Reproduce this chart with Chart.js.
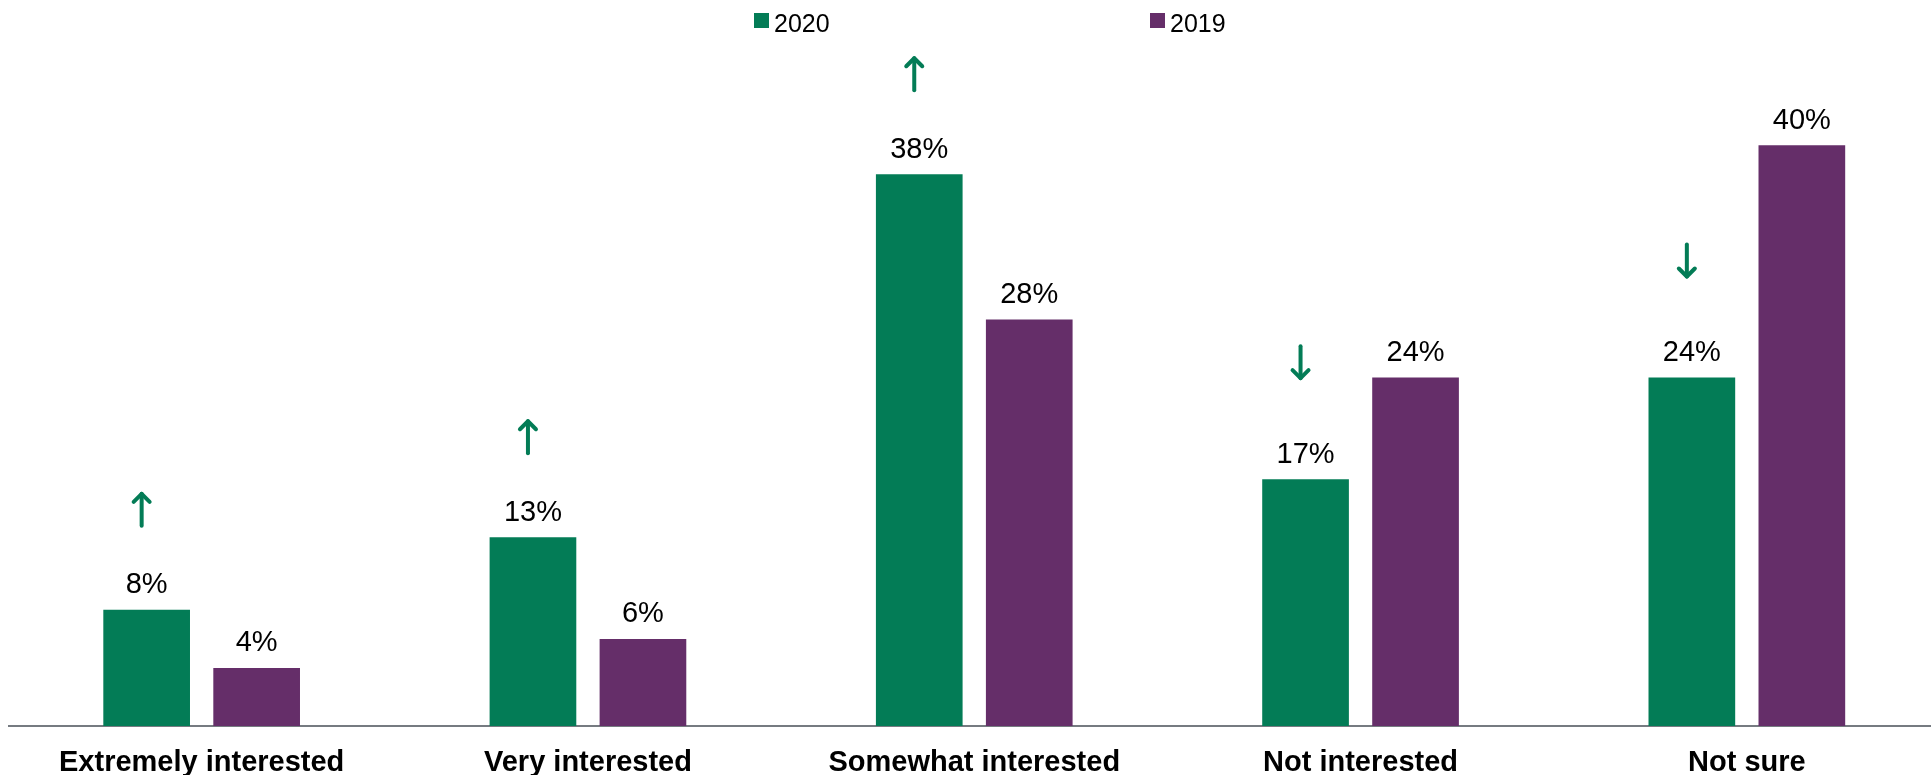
<!DOCTYPE html>
<html>
<head>
<meta charset="utf-8">
<script src="https://cdn.jsdelivr.net/npm/chart.js@4/dist/chart.umd.min.js"></script>
<style>
  html, body { margin: 0; padding: 0; overflow: hidden; background: #fff; }
  #wrap { width: 1940px; height: 775px; }
</style>
</head>
<body>
<div id="wrap"><canvas id="c" width="1940" height="775"></canvas></div>
<script>
const categories = ['Extremely interested', 'Very interested', 'Somewhat interested', 'Not interested', 'Not sure'];
const seriesLabels = ['2020', '2019'];
const values2020 = [8, 13, 38, 17, 24];
const values2019 = [4, 6, 28, 24, 40];
const trend2020 = ['up', 'up', 'up', 'down', 'down'];

const GREEN = '#037c56';
const PURPLE = '#652e69';
const FONT = "'Liberation Sans', Arial, Helvetica, sans-serif";

const valueLabels = {
  id: 'valueLabels',
  afterDatasetsDraw(chart) {
    const ctx = chart.ctx;
    ctx.save();
    ctx.font = '29px ' + FONT;
    ctx.fillStyle = '#000';
    ctx.textAlign = 'center';
    ctx.textBaseline = 'alphabetic';
    chart.data.datasets.forEach((ds, di) => {
      const meta = chart.getDatasetMeta(di);
      meta.data.forEach((el, i) => {
        ctx.fillText(ds.data[i] + '%', el.x, el.y - 16.5);
      });
    });
    // trend arrows for 2020
    const meta0 = chart.getDatasetMeta(0);
    ctx.strokeStyle = GREEN;
    ctx.lineWidth = 4;
    ctx.lineCap = 'round';
    ctx.lineJoin = 'round';
    meta0.data.forEach((el, i) => {
      const dir = trend2020[i];
      if (!dir) return;
      const cx = el.x - 5;
      const half = 16;
      const cy = dir === 'up' ? el.y - 100 : el.y - 117;
      const tipY = dir === 'up' ? cy - half : cy + half;
      const tailY = dir === 'up' ? cy + half : cy - half;
      const s = dir === 'up' ? 1 : -1;
      ctx.beginPath();
      ctx.moveTo(cx, tailY);
      ctx.lineTo(cx, tipY);
      ctx.stroke();
      ctx.beginPath();
      ctx.moveTo(cx - 8, tipY + s * 8);
      ctx.lineTo(cx, tipY);
      ctx.lineTo(cx + 8, tipY + s * 8);
      ctx.stroke();
    });
    ctx.restore();
  }
};

const customLegend = {
  id: 'customLegend',
  afterDraw(chart) {
    const ctx = chart.ctx;
    const starts = [754, 1150];
    ctx.save();
    ctx.font = '25px ' + FONT;
    ctx.textBaseline = 'alphabetic';
    ctx.textAlign = 'left';
    chart.data.datasets.forEach((ds, i) => {
      const x = starts[i];
      ctx.fillStyle = ds.backgroundColor;
      ctx.fillRect(x, 13, 15, 15);
      ctx.fillStyle = '#000';
      ctx.fillText(ds.label, x + 20, 31.5);
    });
    ctx.restore();
  }
};

new Chart(document.getElementById('c'), {
  type: 'bar',
  data: {
    labels: categories,
    datasets: [
      { label: seriesLabels[0], data: values2020, backgroundColor: GREEN, borderWidth: 0 },
      { label: seriesLabels[1], data: values2019, backgroundColor: PURPLE, borderWidth: 0 }
    ]
  },
  options: {
    responsive: false,
    animation: false,
    layout: { padding: { left: 8.5, right: 0, top: 0, bottom: 0 } },
    datasets: { bar: { categoryPercentage: 0.5695, barPercentage: 0.788 } },
    plugins: {
      legend: { display: false },
      tooltip: { enabled: false },
      title: { display: false }
    },
    scales: {
      x: {
        grid: { display: false, drawTicks: false },
        border: { display: true, color: '#767b81', width: 2 },
        ticks: {
          color: '#000',
          font: { family: FONT, size: 29, weight: 'bold' },
          padding: 20,
          maxRotation: 0,
          autoSkip: false
        },
        afterFit(scale) { scale.height = 49; }
      },
      y: {
        display: false,
        min: 0,
        max: 50
      }
    }
  },
  plugins: [valueLabels, customLegend]
});
</script>
</body>
</html>
